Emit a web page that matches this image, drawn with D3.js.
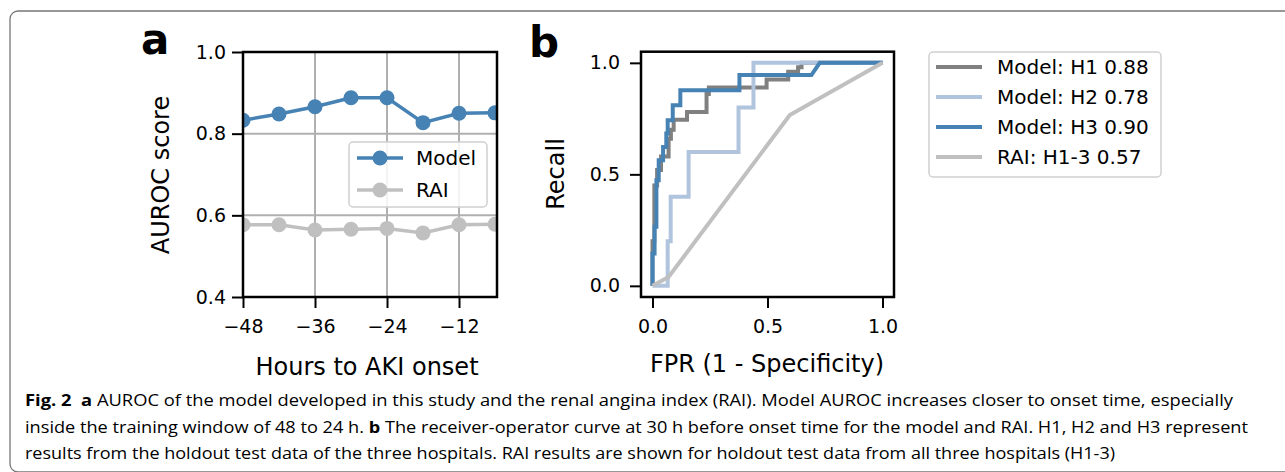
<!DOCTYPE html>
<html><head><meta charset="utf-8">
<script src="https://cdn.jsdelivr.net/npm/d3@7"></script>
<style>
body{margin:0;background:#fff}
svg{display:block}
text{font-family:"DejaVu Sans",sans-serif;fill:#000}
.cap text{font-family:"Open Sans",sans-serif}
</style>
</head><body><svg id="c" width="1285" height="472"></svg>
<script>
// ---------- data ----------
const hours = [-48,-42,-36,-30,-24,-18,-12,-6];
const modelAuroc = [0.833,0.848,0.866,0.888,0.888,0.827,0.850,0.851];
const raiAuroc   = [0.577,0.577,0.564,0.566,0.568,0.557,0.577,0.578];
const xTicksA = [-48,-36,-24,-12];
const yTicksA = [0.4,0.6,0.8,1.0];
const seriesA = ["Model","RAI"];

const h1Fpr = [0,0,0.008,0.008,0.02,0.02,0.037,0.037,0.07,0.07,0.08,0.08,0.092,0.092,0.15,0.15,0.235,0.235,0.245,0.245,0.496,0.496,0.59,0.59,0.633,0.633,0.648,0.648,1];
const h1Tpr = [0,0.2,0.2,0.45,0.45,0.52,0.52,0.58,0.58,0.66,0.66,0.70,0.70,0.745,0.745,0.78,0.78,0.86,0.86,0.89,0.89,0.925,0.925,0.96,0.96,0.98,0.98,1,1];
const h2Fpr = [0,0.066,0.066,0.079,0.079,0.157,0.157,0.374,0.374,0.439,0.439,1];
const h2Tpr = [0,0,0.2,0.2,0.4,0.4,0.6,0.6,0.8,0.8,1,1];
const h3Fpr = [0,0,0.009,0.009,0.017,0.017,0.027,0.027,0.046,0.046,0.06,0.06,0.066,0.066,0.088,0.088,0.121,0.121,0.378,0.378,0.691,0.727,1];
const h3Tpr = [0,0.145,0.145,0.265,0.265,0.474,0.474,0.563,0.563,0.623,0.623,0.683,0.683,0.743,0.743,0.81,0.81,0.877,0.877,0.945,0.945,1,1];
const raiFpr = [0,0.07,0.597,1];
const raiTpr = [0,0.04,0.766,1];
const rocLabels = ["Model: H1 0.88","Model: H2 0.78","Model: H3 0.90","RAI: H1-3 0.57"];
const ticksB = [0,0.5,1.0];

const captionLines = [
  [["Fig. 2","b"],["  ",""],["a","b"],[" AUROC of the model developed in this study and the renal angina index (RAI). Model AUROC increases closer to onset time, especially",""]],
  [["inside the training window of 48 to 24 h. ",""],["b","b"],[" The receiver-operator curve at 30 h before onset time for the model and RAI. H1, H2 and H3 represent",""]],
  [["results from the holdout test data of the three hospitals. RAI results are shown for holdout test data from all three hospitals (H1-3)",""]]
];

// ---------- styles ----------
const colA = {Model:"#4682b4", RAI:"#c0c0c0"};
const colB = ["#808080","#b0c4de","#4682b4","#c0c0c0"];

const svg = d3.select("#c");

// frame
svg.append("rect").attr("x",10).attr("y",11).attr("width",1300).attr("height",461)
  .attr("rx",8).attr("fill","none").attr("stroke","#777").attr("stroke-width",1.3);

function styleAxis(g){
  g.select(".domain").remove();
  g.selectAll(".tick line").attr("stroke","#000").attr("stroke-width",2);
  g.selectAll(".tick text").attr("font-size",19).attr("font-family","DejaVu Sans").attr("fill","#000");
}

// ================= Panel a =================
const xA = d3.scaleLinear().domain([-48,-5.67]).range([243,497]);
const yA = d3.scaleLinear().domain([0.4,1.0]).range([297,52]);

svg.append("defs").append("clipPath").attr("id","clipA")
  .append("rect").attr("x",243).attr("y",52).attr("width",254).attr("height",245);

const gA = svg.append("g");
// grid
gA.selectAll(".gx").data(xTicksA).join("line")
  .attr("x1",d=>xA(d)).attr("x2",d=>xA(d)).attr("y1",52).attr("y2",297)
  .attr("stroke","#b0b0b0").attr("stroke-width",2);
gA.selectAll(".gy").data(yTicksA).join("line")
  .attr("y1",d=>yA(d)).attr("y2",d=>yA(d)).attr("x1",243).attr("x2",497)
  .attr("stroke","#b0b0b0").attr("stroke-width",2);

const plotA = gA.append("g").attr("clip-path","url(#clipA)");
const lineA = d3.line().x((d,i)=>xA(hours[i])).y(d=>yA(d));
[["Model",modelAuroc],["RAI",raiAuroc]].forEach(([k,vals])=>{
  plotA.append("path").datum(vals).attr("d",lineA).attr("fill","none")
    .attr("stroke",colA[k]).attr("stroke-width",3.5);
  plotA.selectAll(null).data(vals).join("circle")
    .attr("cx",(d,i)=>xA(hours[i])).attr("cy",d=>yA(d)).attr("r",7.5).attr("fill",colA[k]);
});

// legend a
const lgA = gA.append("g");
lgA.append("rect").attr("x",349).attr("y",142).attr("width",138).attr("height",65).attr("rx",4)
  .attr("fill","#fff").attr("fill-opacity",0.85).attr("stroke","#d0d0d0").attr("stroke-width",1.5);
seriesA.forEach((k,i)=>{
  const y = 158 + i*32;
  lgA.append("line").attr("x1",357).attr("x2",403).attr("y1",y).attr("y2",y)
    .attr("stroke",colA[k]).attr("stroke-width",3.5);
  lgA.append("circle").attr("cx",380).attr("cy",y).attr("r",7.5).attr("fill",colA[k]);
  lgA.append("text").attr("x",416).attr("y",y+7).attr("font-size",20).text(k);
});

// spines
gA.append("rect").attr("x",243).attr("y",52).attr("width",254).attr("height",245)
  .attr("fill","none").attr("stroke","#000").attr("stroke-width",2.5);

// axes
gA.append("g").attr("transform","translate(243,0)")
  .call(d3.axisLeft(yA).tickValues(yTicksA).tickFormat(d3.format(".1f")).tickSize(11).tickPadding(6))
  .call(styleAxis);
gA.append("g").attr("transform","translate(0,297)")
  .call(d3.axisBottom(xA).tickValues(xTicksA).tickFormat(d3.format("d")).tickSize(11).tickPadding(12))
  .call(styleAxis);

gA.append("text").attr("x",367).attr("y",375).attr("text-anchor","middle").attr("font-size",24)
  .text("Hours to AKI onset");
gA.append("text").attr("transform","translate(169,175) rotate(-90)").attr("text-anchor","middle")
  .attr("font-size",24).text("AUROC score");
gA.append("text").attr("x",141).attr("y",54).attr("font-size",42).attr("font-weight","bold").text("a");

// ================= Panel b =================
const xB = d3.scaleLinear().domain([-0.05,1.05]).range([641,894]);
const yB = d3.scaleLinear().domain([-0.05,1.05]).range([297,51.7]);
svg.select("defs").append("clipPath").attr("id","clipB")
  .append("rect").attr("x",641).attr("y",51.7).attr("width",253).attr("height",245.3);

const gB = svg.append("g");
const plotB = gB.append("g").attr("clip-path","url(#clipB)");
const rocs = [[h1Fpr,h1Tpr],[h2Fpr,h2Tpr],[h3Fpr,h3Tpr],[raiFpr,raiTpr]];
const lineB = d3.line().x(d=>xB(d[0])).y(d=>yB(d[1]));
rocs.forEach(([f,t],i)=>{
  plotB.append("path").datum(f.map((v,j)=>[v,t[j]])).attr("d",lineB).attr("fill","none")
    .attr("stroke",colB[i]).attr("stroke-width",4).attr("stroke-linejoin","miter");
});
gB.append("rect").attr("x",641).attr("y",51.7).attr("width",253).attr("height",245.3)
  .attr("fill","none").attr("stroke","#000").attr("stroke-width",2.5);
gB.append("g").attr("transform","translate(641,0)")
  .call(d3.axisLeft(yB).tickValues(ticksB).tickFormat(d3.format(".1f")).tickSize(11).tickPadding(10))
  .call(styleAxis);
gB.append("g").attr("transform","translate(0,297)")
  .call(d3.axisBottom(xB).tickValues(ticksB).tickFormat(d3.format(".1f")).tickSize(11).tickPadding(12))
  .call(styleAxis);
gB.append("text").attr("x",767).attr("y",372).attr("text-anchor","middle").attr("font-size",24)
  .text("FPR (1 - Specificity)");
gB.append("text").attr("transform","translate(564,174) rotate(-90)").attr("text-anchor","middle")
  .attr("font-size",24).text("Recall");
gB.append("text").attr("x",529).attr("y",57).attr("font-size",42).attr("font-weight","bold").text("b");

// legend b
const lgB = gB.append("g");
lgB.append("rect").attr("x",929).attr("y",52).attr("width",232).attr("height",125).attr("rx",4)
  .attr("fill","#fff").attr("stroke","#d0d0d0").attr("stroke-width",1.5);
rocLabels.forEach((lab,i)=>{
  const y = 67 + i*30;
  lgB.append("line").attr("x1",936).attr("x2",982).attr("y1",y).attr("y2",y)
    .attr("stroke",colB[i]).attr("stroke-width",4);
  lgB.append("text").attr("x",997).attr("y",y+7).attr("font-size",20).text(lab);
});

// ================= caption =================
const cap = svg.append("g").attr("class","cap");
const capBase = [405.5,432.5,459];
const capLen = [1208,1223,1090];
captionLines.forEach((parts,i)=>{
  const t = cap.append("text").attr("x",25).attr("y",capBase[i]).attr("font-size",16.5)
    .attr("fill","#231f20").style("white-space","pre")
    .attr("textLength",capLen[i]).attr("lengthAdjust","spacingAndGlyphs");
  parts.forEach(([s,b])=>{
    t.append("tspan").attr("font-weight",b?"bold":"normal").text(s);
  });
});
</script>
</body></html>
